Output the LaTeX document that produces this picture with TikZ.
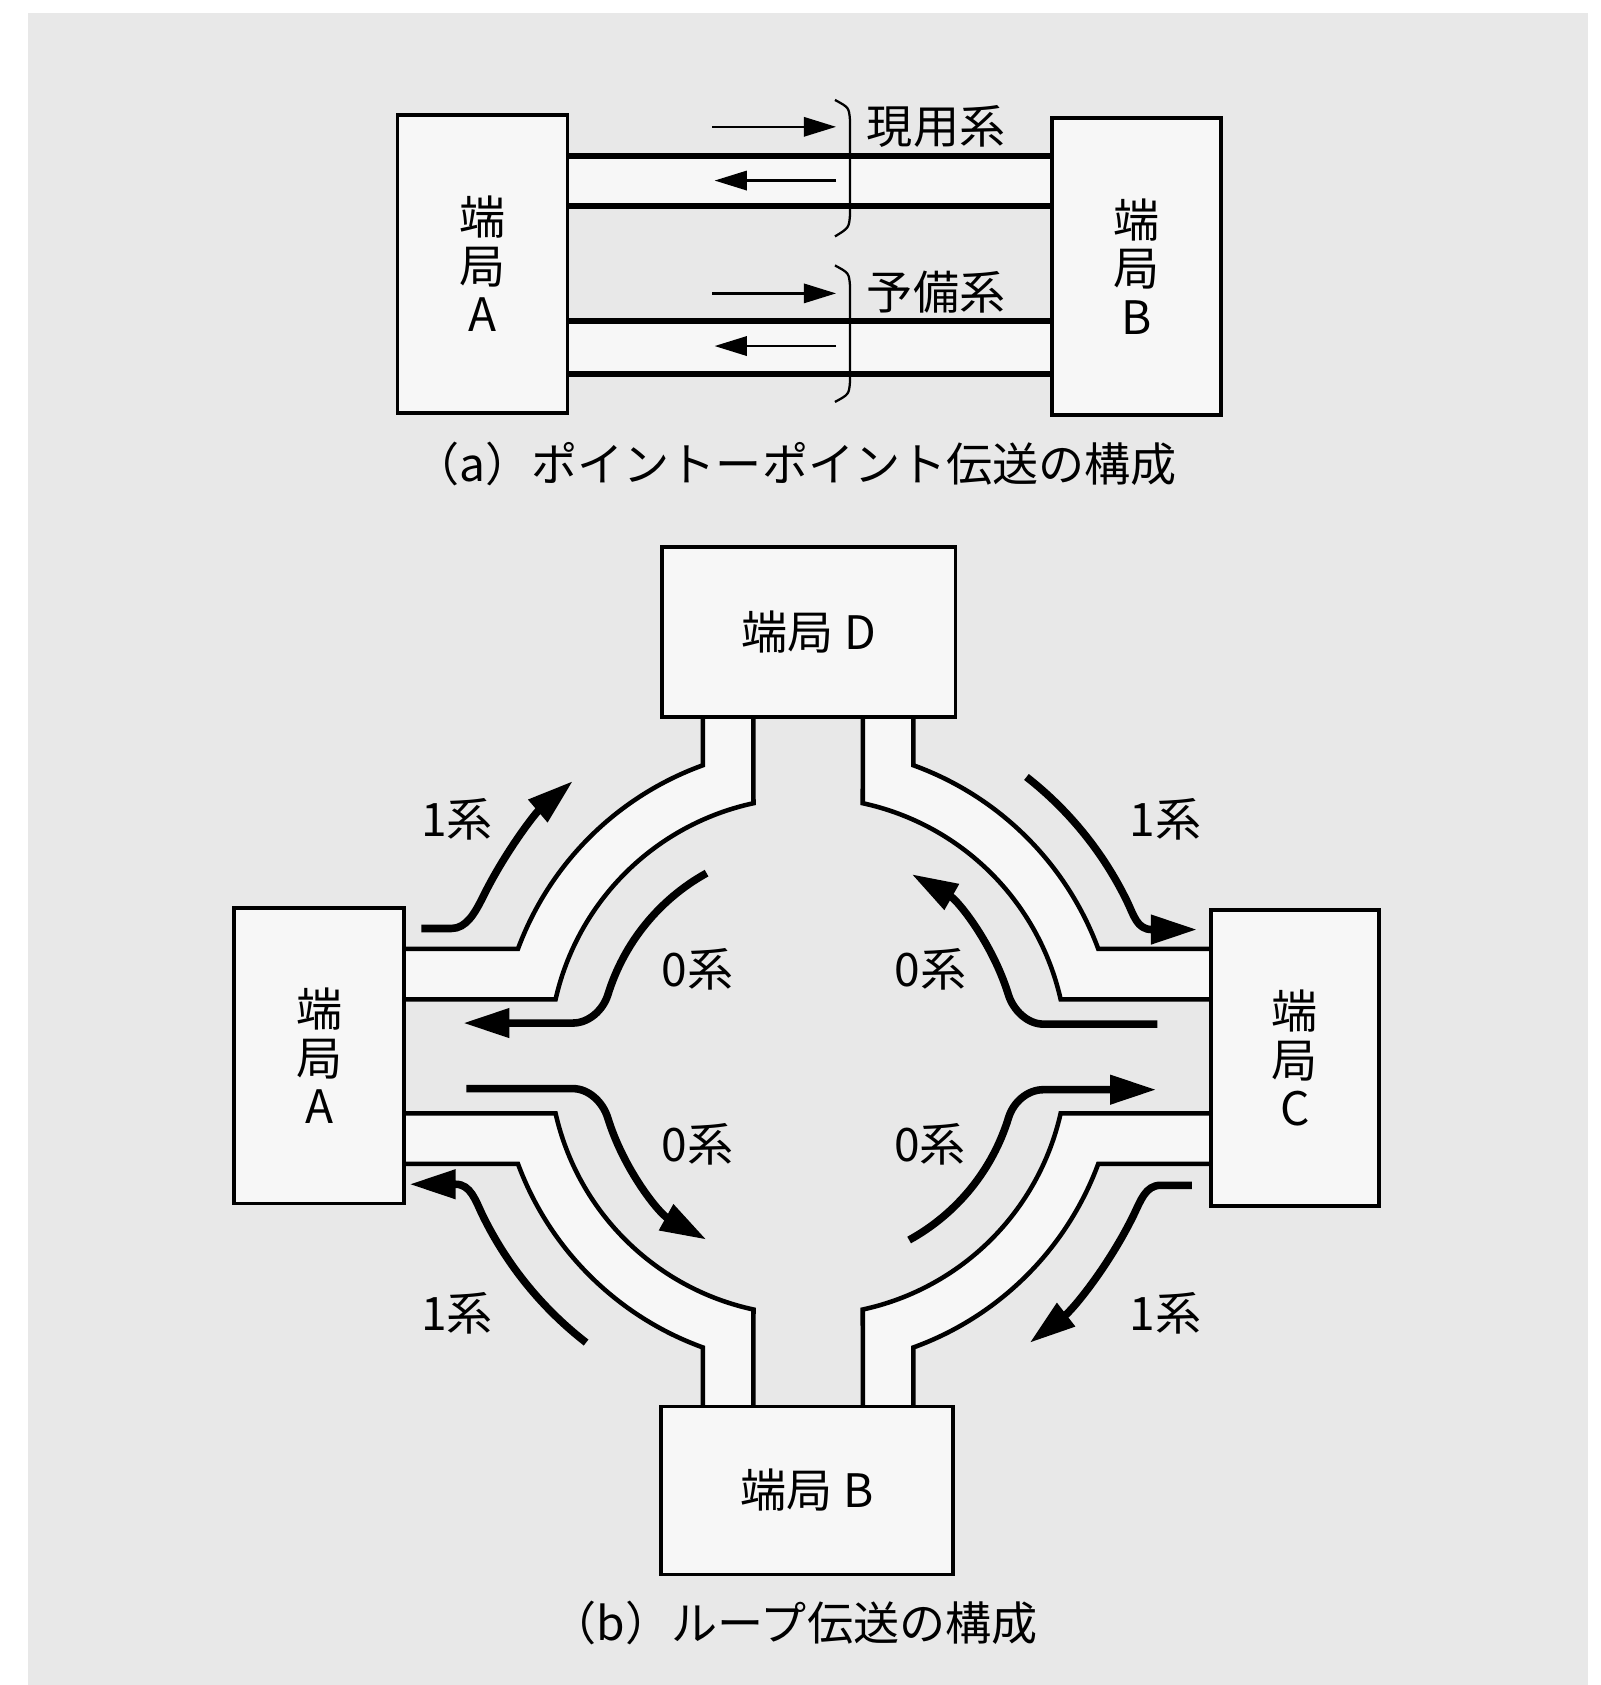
\documentclass[tikz,border=0pt]{standalone}
\usepackage{fontspec}
\setmainfont{Noto Sans CJK JP}
\usetikzlibrary{arrows.meta}
\definecolor{bggray}{HTML}{E8E8E8}
\definecolor{boxfill}{HTML}{F7F7F7}
\begin{document}
\begin{tikzpicture}[x=0.01cm,y=-0.01cm,
  every node/.style={font=\fontsize{12.2pt}{12.9pt}\selectfont},
  box/.style={draw,line width=0.95pt,fill=boxfill,inner sep=0pt,align=center},
  pline/.style={line width=1.6pt},
  bandline/.style={line width=1.2pt},
  thinarrow/.style={line width=0.6pt,-{Triangle[length=3mm,width=1.8mm]}},
  flow/.style={line width=2pt,-{Triangle[length=4.3mm,width=2.6mm]}},
  bracestyle/.style={line width=0.6pt},
  lbl/.style={inner sep=0pt}]
\useasboundingbox (0,0) rectangle (1489,1568);
\fill[white] (0,0) rectangle (1489,1568);
\fill[bggray] (26,12) rectangle (1478,1568);

% ---------------- (a) ----------------
\fill[boxfill] (528,145) rectangle (979,192);
\fill[boxfill] (528,299) rectangle (979,348);
\node[box,minimum width=1.58cm,minimum height=2.77cm] (aA) at (449,245.5) {端\\局\\A};
\node[box,minimum width=1.57cm,minimum height=2.76cm] (aB) at (1057.5,248) {端\\局\\B};
\draw[pline] (aA.east |- 0,145) -- (aB.west |- 0,145);
\draw[pline] (aA.east |- 0,192) -- (aB.west |- 0,192);
\draw[pline] (aA.east |- 0,299) -- (aB.west |- 0,299);
\draw[pline] (aA.east |- 0,348) -- (aB.west |- 0,348);
\draw[thinarrow] (663,118) -- (778,118);
\draw[thinarrow] (778,168) -- (665,168);
\draw[thinarrow] (663,273) -- (778,273);
\draw[thinarrow] (778,322) -- (665,322);
\draw[bracestyle] (777,93) .. controls (790,100) .. (791,112) -- (791,200) .. controls (790,212) .. (777,220);
\draw[bracestyle] (777,247) .. controls (790,254) .. (791,266) -- (791,355) .. controls (790,367) .. (777,374);
\node[lbl,anchor=west] (lgen) at (806,118) {現用系};
\node[lbl,anchor=west] (lyobi) at (806,272) {予備系};
\node[lbl] (capa) at (740,432) {（a）ポイントーポイント伝送の構成};

% ---------------- (b) ----------------
\fill[boxfill] (376,883) -- (482,883) arc[start angle=200.3,end angle=250.1,radius=288] -- (654,667) -- (701,667) -- (701,747.4) arc[start angle=257.8,end angle=192.7,radius=241] -- (376,930) -- cycle;
\fill[boxfill] (1127,883) -- (1022,883) arc[start angle=339.7,end angle=289.9,radius=288] -- (850,667) -- (803,667) -- (803,747.4) arc[start angle=282.2,end angle=347.3,radius=241] -- (1127,930) -- cycle;
\fill[boxfill] (376,1083) -- (482,1083) arc[start angle=159.7,end angle=109.9,radius=288] -- (654,1309) -- (701,1309) -- (701,1218.6) arc[start angle=102.2,end angle=167.3,radius=241] -- (376,1036) -- cycle;
\fill[boxfill] (1127,1083) -- (1022,1083) arc[start angle=20.3,end angle=70.1,radius=288] -- (850,1309) -- (803,1309) -- (803,1218.6) arc[start angle=77.8,end angle=12.7,radius=241] -- (1127,1036) -- cycle;

\node[box,minimum width=2.73cm,minimum height=1.58cm] (nD) at (752.5,588) {端局 D};
\node[box,minimum width=2.72cm,minimum height=1.56cm] (nB) at (751,1387) {端局 B};
\node[box,minimum width=1.58cm,minimum height=2.75cm] (nA) at (297,982.5) {端\\局\\A};
\node[box,minimum width=1.56cm,minimum height=2.75cm] (nC) at (1205,984.5) {端\\局\\C};

\draw[bandline] (nA.east |- 0,883) -- (482,883) arc[start angle=200.3,end angle=250.1,radius=288] -- (654,0 |- nD.south);
\draw[bandline] (nA.east |- 0,930) -- (517,930) arc[start angle=192.7,end angle=257.8,radius=241] -- (701,0 |- nD.south);
\draw[bandline] (nC.west |- 0,883) -- (1022,883) arc[start angle=339.7,end angle=289.9,radius=288] -- (850,0 |- nD.south);
\draw[bandline] (nC.west |- 0,930) -- (987,930) arc[start angle=347.3,end angle=282.2,radius=241] -- (803,0 |- nD.south);
\draw[bandline] (nA.east |- 0,1083) -- (482,1083) arc[start angle=159.7,end angle=109.9,radius=288] -- (654,0 |- nB.north);
\draw[bandline] (nA.east |- 0,1036) -- (517,1036) arc[start angle=167.3,end angle=102.2,radius=241] -- (701,0 |- nB.north);
\draw[bandline] (nC.west |- 0,1083) -- (1022,1083) arc[start angle=20.3,end angle=70.1,radius=288] -- (850,0 |- nB.north);
\draw[bandline] (nC.west |- 0,1036) -- (987,1036) arc[start angle=12.7,end angle=77.8,radius=241] -- (803,0 |- nB.north);

% flow arrows
\draw[flow] (392,864) -- (420,864) .. controls (434,864) and (442,849.4) .. (449.1,835.3) arc[start angle=206,end angle=229.5,radius=337];
\draw[flow] (657.5,812.5) arc[start angle=241,end angle=197,radius=195] .. controls (561,940) and (548,952) .. (533,952) -- (431,952);
\draw[flow] (434,1013) -- (533,1013) .. controls (548,1013) and (561,1025.7) .. (565.5,1040) arc[start angle=163,end angle=119,radius=195];
\draw[flow] (545.4,1249.3) arc[start angle=127.8,end angle=154,radius=337] .. controls (442.5,1117.2) and (438,1102) .. (424,1102) -- (381,1102);
\draw[flow] (955.2,723) arc[start angle=308,end angle=334,radius=330] .. controls (1055.2,851.8) and (1058,865) .. (1072,865) -- (1114,865);
\draw[flow] (1077,953) -- (971,953) .. controls (956,953) and (943,940) .. (938.5,926) arc[start angle=343,end angle=299.6,radius=195];
\draw[flow] (846,1153.9) arc[start angle=61.2,end angle=17,radius=195] .. controls (942.9,1025.7) and (956,1014) .. (971,1014) -- (1076,1014);
\draw[flow] (1109,1103) -- (1080,1103) .. controls (1066,1103) and (1061.5,1117.2) .. (1054.9,1130.7) arc[start angle=26,end angle=52.3,radius=337];

\node[lbl] (l1a) at (425.5,762) {1系};
\node[lbl] (l1b) at (1084.5,762) {1系};
\node[lbl] (l1c) at (425.5,1222) {1系};
\node[lbl] (l1d) at (1084.5,1222) {1系};
\node[lbl] (l0a) at (649,902) {0系};
\node[lbl] (l0b) at (866,902) {0系};
\node[lbl] (l0c) at (649,1065) {0系};
\node[lbl] (l0d) at (865.5,1065) {0系};
\node[lbl] (capb) at (739,1510) {（b）ループ伝送の構成};
\end{tikzpicture}
\end{document}
